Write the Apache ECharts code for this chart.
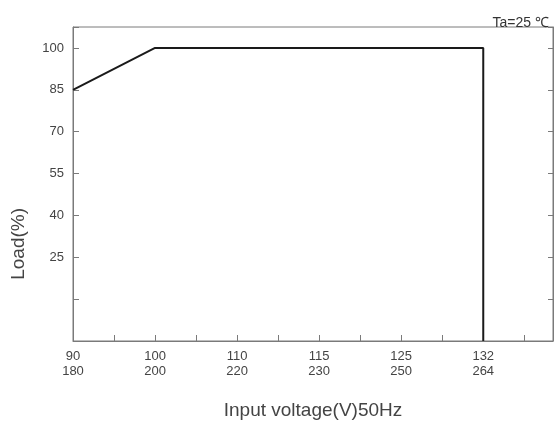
<!DOCTYPE html>
<html>
<head>
<meta charset="utf-8">
<script src="https://cdn.jsdelivr.net/npm/echarts@6/dist/echarts.min.js"></script>
<style>html,body{margin:0;padding:0;background:#fff}#c{width:558px;height:425px}</style>
</head>
<body>
<div id="c"></div>
<script>
// tick positions on x (index) and their two-line labels
var xTickPos = [0, 2, 4, 6, 8, 10];
var xTickLabels120 = ['90', '100', '110', '115', '125', '132'];
var xTickLabels230 = ['180', '200', '220', '230', '250', '264'];
// derating curve: x index, load %
var curveX = [0, 2, 10, 10];
var curveY = [85, 100, 100, -5];
var yTickLabels = [25, 40, 55, 70, 85, 100];

var FONT = '"Liberation Sans",Arial,sans-serif';
var chart = echarts.init(document.getElementById('c'), null, {renderer: 'canvas'});
var data = curveX.map(function (x, i) { return [x, curveY[i]]; });

function yFmt(v) { return yTickLabels.indexOf(v) >= 0 ? String(v) : ''; }
function xFmt(v) {
  var i = xTickPos.indexOf(v);
  return i >= 0 ? xTickLabels120[i] + '\n' + xTickLabels230[i] : '';
}

var axisLineStyle = {color: '#7a7a7a', width: 1};
chart.setOption({
  animation: false,
  backgroundColor: '#fff',
  title: {
    text: 'Ta=25 ℃', right: 4, top: 11,
    textStyle: {fontFamily: FONT, fontSize: 14, fontWeight: 'normal', color: '#333'}
  },
  grid: {left: 73, right: 5, top: 27, bottom: 84, show: true, borderColor: '#7a7a7a', borderWidth: 1},
  graphic: [{
    type: 'text', left: 9, top: 208, rotation: Math.PI / 2,
    style: {text: 'Load(%)', font: '19px "Liberation Sans",Arial,sans-serif', fill: '#444'}
  }],
  xAxis: [{
    type: 'value', min: 0, max: 11.7, interval: 1,
    axisLine: {show: true, onZero: false, lineStyle: axisLineStyle},
    axisTick: {show: true, inside: true, length: 6, lineStyle: axisLineStyle},
    splitLine: {show: false},
    axisLabel: {formatter: xFmt, fontFamily: FONT, fontSize: 13, color: '#444', lineHeight: 15, margin: 8, showMaxLabel: false},
    name: 'Input voltage(V)50Hz', nameLocation: 'middle', nameGap: 60,
    nameTextStyle: {fontFamily: FONT, fontSize: 19, color: '#444'}
  }],
  yAxis: [{
    type: 'value', min: -5, max: 107.5, interval: 15,
    axisLine: {show: true, onZero: false, lineStyle: axisLineStyle},
    axisTick: {show: true, inside: true, length: 6, lineStyle: axisLineStyle},
    splitLine: {show: false},
    axisLabel: {formatter: yFmt, fontFamily: FONT, fontSize: 13, color: '#444', margin: 9}
  }, {
    type: 'value', position: 'right', min: -5, max: 107.5, interval: 15,
    axisLine: {show: true, onZero: false, lineStyle: axisLineStyle},
    axisTick: {show: true, inside: true, length: 5, lineStyle: axisLineStyle},
    splitLine: {show: false},
    axisLabel: {show: false}
  }],
  series: [{
    type: 'line', data: data, symbol: 'none', clip: true,
    lineStyle: {color: '#1a1a1a', width: 2}
  }]
});
</script>
</body>
</html>
